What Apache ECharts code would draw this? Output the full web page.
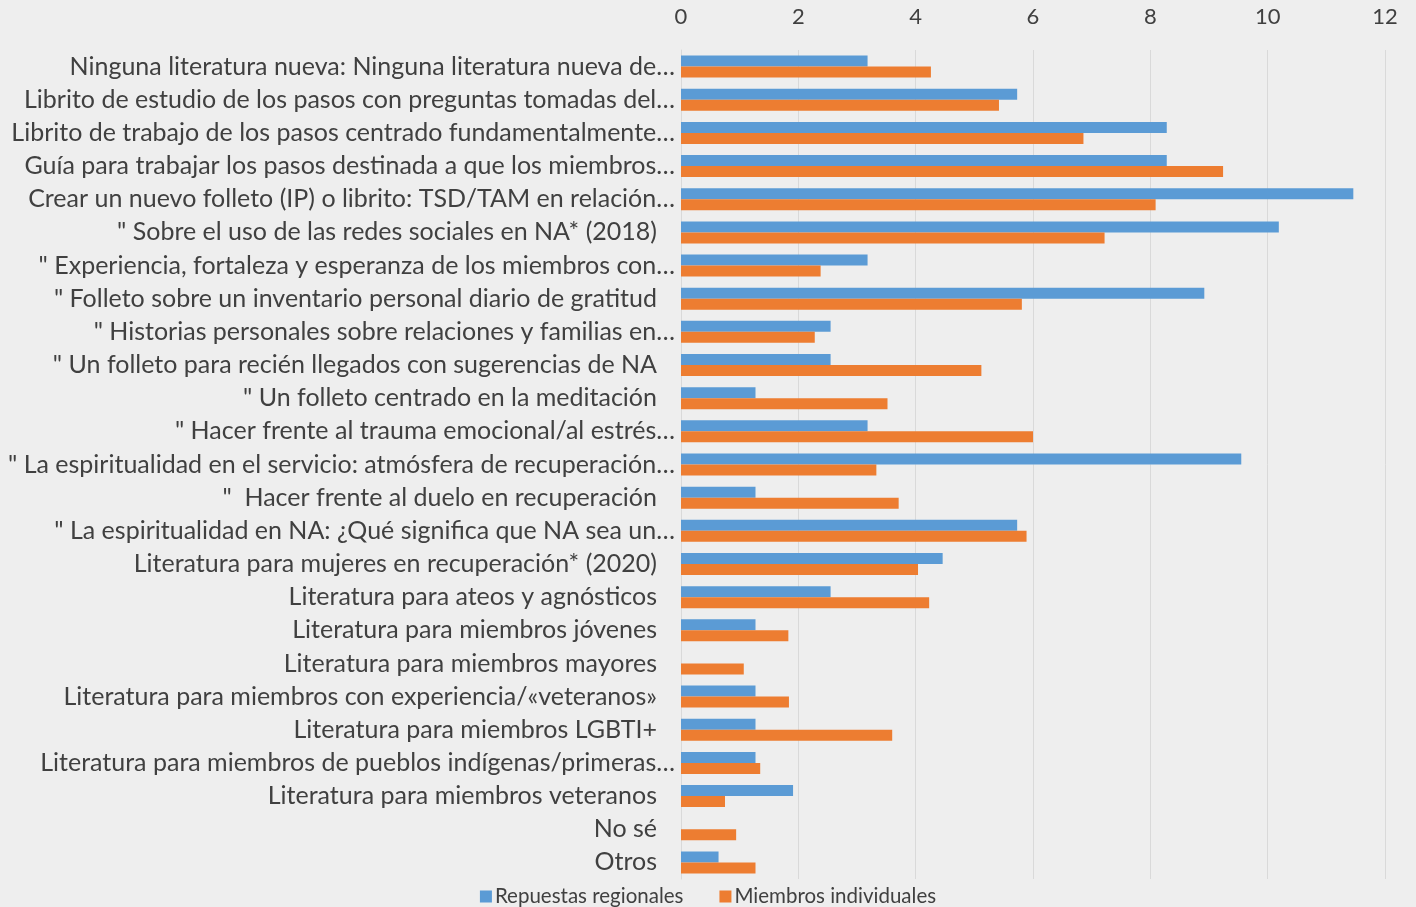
<!DOCTYPE html>
<html>
<head>
<meta charset="utf-8">
<script src="https://cdn.jsdelivr.net/npm/echarts@6/dist/echarts.min.js"></script>
<style>
html,body{margin:0;padding:0;background:#eeeeee;}
#chart{width:1416px;height:907px;}
</style>
</head>
<body>
<div id="chart"></div>
<script>
const categories = [
  "Ninguna literatura nueva: Ninguna literatura nueva de…",
  "Librito de estudio de los pasos con preguntas tomadas del…",
  "Librito de trabajo de los pasos centrado fundamentalmente…",
  "Guía para trabajar los pasos destinada a que los miembros…",
  "Crear un nuevo folleto (IP) o librito: TSD/TAM en relación…",
  "\" Sobre el uso de las redes sociales en NA* (2018)",
  "\" Experiencia, fortaleza y esperanza de los miembros con…",
  "\" Folleto sobre un inventario personal diario de gratitud",
  "\" Historias personales sobre relaciones y familias en…",
  "\" Un folleto para recién llegados con sugerencias de NA",
  "\" Un folleto centrado en la meditación",
  "\" Hacer frente al trauma emocional/al estrés…",
  "\" La espiritualidad en el servicio: atmósfera de recuperación…",
  "\"  Hacer frente al duelo en recuperación",
  "\" La espiritualidad en NA: ¿Qué significa que NA sea un…",
  "Literatura para mujeres en recuperación* (2020)",
  "Literatura para ateos y agnósticos",
  "Literatura para miembros jóvenes",
  "Literatura para miembros mayores",
  "Literatura para miembros con experiencia/«veteranos»",
  "Literatura para miembros LGBTI+",
  "Literatura para miembros de pueblos indígenas/primeras…",
  "Literatura para miembros veteranos",
  "No sé",
  "Otros"
];
const seriesNames = ["Repuestas regionales", "Miembros individuales"];
const regional = [3.18, 5.73, 8.28, 8.28, 11.46, 10.19, 3.18, 8.92, 2.55, 2.55, 1.27, 3.18, 9.55, 1.27, 5.73, 4.46, 2.55, 1.27, 0, 1.27, 1.27, 1.27, 1.91, 0, 0.64];
const individual = [4.26, 5.42, 6.86, 9.24, 8.09, 7.22, 2.38, 5.81, 2.28, 5.12, 3.52, 6.0, 3.33, 3.71, 5.89, 4.04, 4.23, 1.83, 1.07, 1.84, 3.6, 1.35, 0.75, 0.94, 1.27];
const xTicks = { min: 0, max: 12, interval: 2 };

const FONT = "Lato";
const TXT = "#404040";
const chart = echarts.init(document.getElementById('chart'), null, { renderer: 'canvas' });
chart.setOption({
  backgroundColor: '#eeeeee',
  animation: false,
  textStyle: { fontFamily: FONT },
  grid: { left: 681, right: 31, top: 50, bottom: 28, containLabel: false },
  legend: {
    top: 881,
    left: 'center',
    itemWidth: 12,
    itemHeight: 12,
    itemGap: 36,
    icon: 'rect',
    textStyle: { fontFamily: FONT, fontSize: 20.5, color: TXT, padding: [0, 0, 0, -2] },
    data: seriesNames
  },
  xAxis: {
    type: 'value',
    position: 'top',
    min: xTicks.min, max: xTicks.max, interval: xTicks.interval,
    axisLine: { show: false },
    axisTick: { show: false },
    axisLabel: { fontFamily: FONT, fontSize: 22, color: TXT, margin: 22 },
    splitLine: { show: true, lineStyle: { color: '#d9d9d9', width: 1 } }
  },
  yAxis: {
    type: 'category',
    inverse: true,
    data: categories,
    axisLine: { show: true, lineStyle: { color: '#d9d9d9' } },
    axisTick: { show: false },
    axisLabel: {
      interval: 0,
      margin: 6,
      formatter: function (v) {
        return v.endsWith('…') ? '{t|' + v + '}' : '{p|' + v + '}';
      },
      rich: {
        t: { fontFamily: FONT, fontSize: 25, color: TXT },
        p: { fontFamily: FONT, fontSize: 25, color: TXT, padding: [0, 18, 0, 0] }
      }
    }
  },
  series: [
    {
      name: seriesNames[0], type: 'bar', data: regional,
      barWidth: 11, barGap: '0%',
      itemStyle: { color: '#5b9bd5' }
    },
    {
      name: seriesNames[1], type: 'bar', data: individual,
      barWidth: 11, barGap: '0%',
      itemStyle: { color: '#ed7d31' }
    }
  ]
});
</script>
</body>
</html>
